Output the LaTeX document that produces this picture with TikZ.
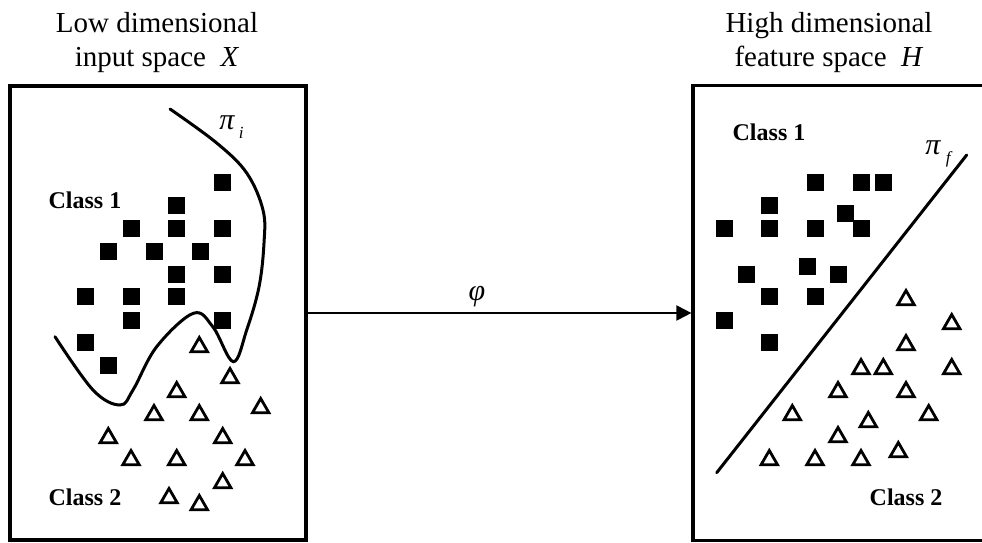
\documentclass[tikz,border=0pt]{standalone}
\usepackage{fontspec}
\setmainfont{Liberation Serif}
\usetikzlibrary{arrows.meta, positioning, shapes.geometric}

\begin{document}
\begin{tikzpicture}[x=1pt, y=-1pt,
        space/.style={rectangle, draw=black, line width=3.2pt, inner sep=0pt},
        ttl/.style={align=center, inner sep=0pt, font=\fontsize{29}{34}\selectfont},
        cls/.style={inner sep=0pt, font=\fontsize{24}{28}\selectfont\bfseries},
        sym/.style={inner sep=0pt, font=\fontsize{30}{34}\selectfont\itshape},
        sub/.style={inner sep=0pt, font=\fontsize{17}{20}\selectfont\itshape},
        sq/.style={rectangle, fill=black, minimum size=17pt, inner sep=0pt},
        tri/.style={regular polygon, regular polygon sides=3, draw=black,
                    line width=2.8pt, minimum size=19pt, inner sep=0pt},
        bound/.style={line width=3pt, line cap=round},
        arr/.style={-{Triangle[length=15pt,width=15pt]}, line width=2pt}]
      \clip (0,0) rectangle (982,543);
      % the two spaces
      \node[space, minimum width=296pt, minimum height=454pt] (inX) at (158,313) {};
      \node[space, minimum width=302pt, minimum height=455pt] (feH) at (844,313) {};
      \node[ttl] (ttlX) at (157,43) {Low dimensional\\ input space \ \textit{X}};
      \node[ttl] (ttlH) at (829,43) {High dimensional\\ feature space \ \textit{H}};
      % mapping
      \draw[arr] (inX) -- (feH);
      \node[sym] (phi) at (477,297) {φ};
      % input space X
      \node[cls] (c1X) at (85,200) {Class 1};
      \node[cls] (c2X) at (85,497) {Class 2};
      \foreach \x/\y [count=\i] in {222.7/182.7, 176.7/205.7, 131/228.7, 176.7/228.7,
          222.7/228.7, 108.3/251.7, 154/251.7, 200/251.7, 176.7/274.3, 222.7/274.3,
          85.7/296.7, 131/296.7, 176.7/296.7, 131/320, 222.7/320, 85.7/342.7, 108.3/365}
        \node[sq] (sqX\i) at (\x,\y) {};
      \foreach \x/\y [count=\i] in {199.3/347, 230/378, 176.7/392, 260.7/408, 154/415,
          199.3/415, 108.3/438, 222.7/438, 131/460, 176.7/460, 245/460, 222.7/483,
          169/498, 199.3/505}
        \node[tri] (trX\i) at (\x,\y) {};
      \draw[bound] plot[smooth, tension=0.6] coordinates {(170,109) (216.7,143) (246.7,173)
          (263,210) (264,243) (259,287) (246.7,330) (233.3,361.7) (213,327) (193.3,313.3)
          (156.7,346.7) (133,390) (120,405) (93,390) (55,336.7)};
      \node[sym] (piI) at (227,123) {π};
      \node[sub, right=4pt of piI, yshift=-10pt] (subI) {i};
      % feature space H
      \node[cls] (c1H) at (769,132) {Class 1};
      \node[cls] (c2H) at (906,497) {Class 2};
      \foreach \x/\y [count=\i] in {815/182.7, 861/182.7, 883.3/182.7, 769.3/205.7,
          845.7/213.3, 724/228.3, 769.3/228.3, 815/228.3, 861/228.3, 746.7/274.3,
          807.7/266.7, 838/274.3, 769.3/296.7, 815/296.7, 724/320, 769.3/342.7}
        \node[sq] (sqH\i) at (\x,\y) {};
      \foreach \x/\y [count=\i] in {906/300, 951.7/324, 906/345, 861/369, 883.3/369,
          951.7/369, 838/392, 906/392, 792.3/415, 868.3/422, 928.7/415, 838/437,
          769.3/460, 815/460, 861/460, 898.3/452}
        \node[tri] (trH\i) at (\x,\y) {};
      \coordinate (lnA) at (716.7,472.7);
      \coordinate (lnB) at (966.7,155);
      \draw[bound] (lnA) -- (lnB);
      \node[sym] (piF) at (933,148) {π};
      \node[sub, right=5pt of piF, yshift=-11pt] (subF) {f};
    \end{tikzpicture}
\end{document}
